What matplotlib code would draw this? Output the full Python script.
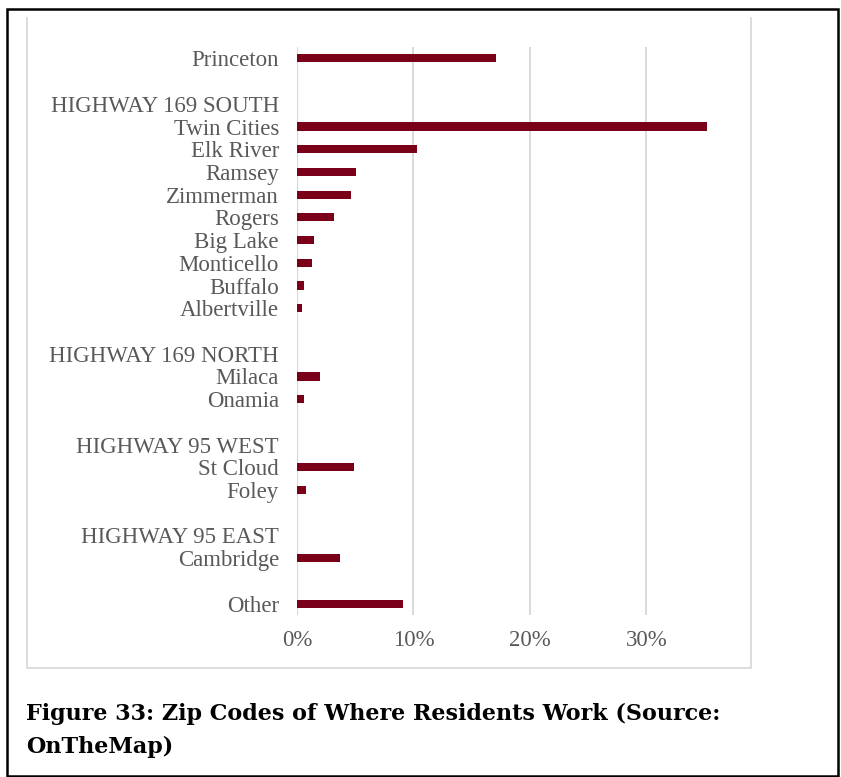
import matplotlib
matplotlib.use("Agg")
import matplotlib.pyplot as plt
from matplotlib.lines import Line2D
from matplotlib.patches import Rectangle
from matplotlib.ticker import PercentFormatter

# rows top to bottom, empty strings are spacer rows in the original chart
places = ["Princeton", "", "HIGHWAY 169 SOUTH", "Twin Cities", "Elk River",
          "Ramsey", "Zimmerman", "Rogers", "Big Lake", "Monticello",
          "Buffalo", "Albertville", "", "HIGHWAY 169 NORTH", "Milaca",
          "Onamia", "", "HIGHWAY 95 WEST", "St Cloud", "Foley", "",
          "HIGHWAY 95 EAST", "Cambridge", "", "Other"]
share = [17.1, 0, 0, 35.2, 10.3,
         5.1, 4.6, 3.2, 1.5, 1.3,
         0.6, 0.4, 0, 0, 2.0,
         0.6, 0, 0, 4.9, 0.8, 0,
         0, 3.7, 0, 9.1]
xticks = [0, 10, 20, 30]
caption = ["Figure 33: Zip Codes of Where Residents Work (Source:", "OnTheMap)"]

W, H = 841, 777
fig = plt.figure(figsize=(W / 100, H / 100), dpi=100)
fig.patch.set_facecolor("white")

# page border
fig.add_artist(Rectangle((7 / W, 1 - 776 / H), 831 / W, 767 / H,
                         transform=fig.transFigure, fill=False,
                         edgecolor="black", linewidth=1.8))
# light chart frame (top edge is cut off in the original)
fx = [27 / W, 27 / W, 751 / W, 751 / W]
fy = [1 - 18 / H, 1 - 668 / H, 1 - 668 / H, 1 - 18 / H]
fig.add_artist(Line2D(fx, fy, transform=fig.transFigure,
                      color="#d9d9d9", linewidth=1.3))

ax = fig.add_axes([297 / W, 1 - 615 / H, 425 / W, 568 / H])
ypos = list(range(len(places)))
ax.barh(ypos, share, height=0.36, color="#7a0019", zorder=3)

ax.set_ylim(len(places) - 0.5, -0.5)
ax.set_xlim(0, 36.5)
ax.set_xticks(xticks)
ax.xaxis.set_major_formatter(PercentFormatter(decimals=0))
ax.set_yticks(ypos)
ax.set_yticklabels(places)

for lab in ax.get_yticklabels() + ax.get_xticklabels():
    lab.set_family(["Liberation Serif", "DejaVu Serif"])
    lab.set_fontsize(16.5)
    lab.set_color("#595959")

ax.tick_params(axis="both", length=0)
ax.tick_params(axis="y", pad=13)
ax.tick_params(axis="x", pad=10.5)
ax.grid(axis="x", color="#d9d9d9", linewidth=1.4, zorder=0)
ax.set_axisbelow(True)
for s in ax.spines.values():
    s.set_visible(False)
ax.axvline(0, color="#d9d9d9", linewidth=1.6, zorder=1)

for i, line in enumerate(caption):
    fig.text(26 / W, 1 - (714 + 33 * i) / H, line,
             family=["DejaVu Serif"], fontsize=16, fontweight="bold",
             color="black", va="center", ha="left")

fig.savefig("out.png", dpi=100)
